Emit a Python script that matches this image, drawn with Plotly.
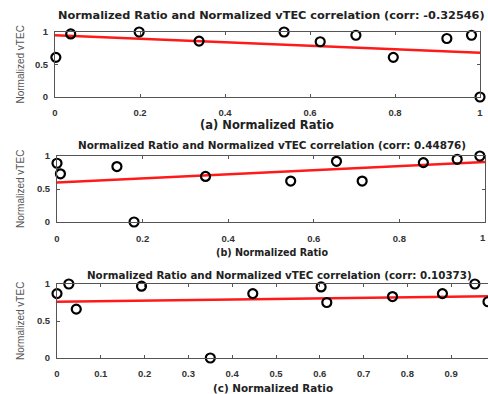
import plotly.graph_objects as go

# Panel (a)
xa = [0.002, 0.037, 0.198, 0.339, 0.539, 0.624, 0.708, 0.796, 0.922, 0.98, 1.0]
ya = [0.61, 0.97, 1.0, 0.86, 1.0, 0.85, 0.95, 0.61, 0.90, 0.95, 0.0]
fit_a_x = [0.0, 1.0]
fit_a_y = [0.95, 0.68]
corr_a = "-0.32546"

# Panel (b)
xb = [0.0, 0.008, 0.14, 0.18, 0.347, 0.546, 0.653, 0.713, 0.856, 0.935, 0.988]
yb = [0.89, 0.73, 0.84, 0.0, 0.69, 0.62, 0.92, 0.62, 0.90, 0.95, 1.0]
fit_b_x = [0.0, 1.0]
fit_b_y = [0.60, 0.91]
corr_b = "0.44876"

# Panel (c)
xc = [0.0, 0.027, 0.044, 0.193, 0.35, 0.447, 0.603, 0.616, 0.766, 0.88, 0.954, 0.984]
yc = [0.87, 1.0, 0.66, 0.97, 0.0, 0.87, 0.96, 0.75, 0.83, 0.87, 1.0, 0.76]
fit_c_x = [0.0, 1.0]
fit_c_y = [0.76, 0.835]
corr_c = "0.10373"

W, H = 488, 394
def px(x): return x / W
def py(y): return 1 - y / H

panels = [
    dict(x=xa, y=ya, fx=fit_a_x, fy=fit_a_y, corr=corr_a, xl="(a) Normalized Ratio",
         xd=[px(55), px(480)], yd=[py(97), py(32)], xr=[0, 1], dt=0.2, tfs=11.3, xlfs=11.5,
         tx=271, ty=15, xlx=267, xly=125, ylx=20, mirror_y=True, xso=7),
    dict(x=xb, y=yb, fx=fit_b_x, fy=fit_b_y, corr=corr_b, xl="(b) Normalized Ratio",
         xd=[px(57), px(485)], yd=[py(222), py(156)], xr=[0, 1], dt=0.2, tfs=10.4, xlfs=9.6,
         tx=272, ty=145, xlx=272, xly=252, ylx=20, mirror_y=True, xso=8),
    dict(x=xc, y=yc, fx=fit_c_x, fy=fit_c_y, corr=corr_c, xl="(c) Normalized Ratio",
         xd=[px(57), 1.0], yd=[py(358), py(284)], xr=[0, (W - 57) / 438.0], dt=0.1, tfs=10.3, xlfs=10.4,
         tx=279, ty=275, xlx=273, xly=388, ylx=20, mirror_y=False, xso=7),
]

fig = go.Figure()
annotations = []
font_t = "DejaVu Sans, Verdana, sans-serif"
font_k = "Liberation Sans, Arial, sans-serif"
for i, p in enumerate(panels, start=1):
    xa_name = "x" if i == 1 else f"x{i}"
    ya_name = "y" if i == 1 else f"y{i}"
    fig.add_trace(go.Scatter(x=p["fx"], y=p["fy"], mode="lines",
                             line=dict(color="#ff1a1a", width=2.5),
                             xaxis=xa_name, yaxis=ya_name, showlegend=False, cliponaxis=True,
                             hoverinfo="skip"))
    fig.add_trace(go.Scatter(x=p["x"], y=p["y"], mode="markers",
                             marker=dict(symbol="circle-open", size=9, color="black",
                                         line=dict(width=2.2, color="black")),
                             xaxis=xa_name, yaxis=ya_name, showlegend=False, cliponaxis=False))
    xkey = "xaxis" if i == 1 else f"xaxis{i}"
    ykey = "yaxis" if i == 1 else f"yaxis{i}"
    fig.update_layout(**{
        xkey: dict(domain=p["xd"], range=p["xr"], anchor=ya_name, dtick=p["dt"], tick0=0,
                   automargin=False, ticklabelstandoff=p["xso"],
                   showgrid=False, zeroline=False, showline=True, linecolor="#555", linewidth=1,
                   mirror="ticks", ticks="inside", ticklen=3, tickcolor="#555",
                   tickfont=dict(family=font_k, size=9.5, color="#333", weight="bold"), tickformat="~g"),
        ykey: dict(domain=p["yd"], range=[0, 1], anchor=xa_name, tickvals=[0, 0.5, 1],
                   ticktext=["0", "0.5", "1"], automargin=False, ticklabelstandoff=4,
                   showgrid=False, zeroline=False, showline=True, linecolor="#555", linewidth=1,
                   mirror="ticks" if p["mirror_y"] else False, ticks="inside", ticklen=3, tickcolor="#555",
                   tickfont=dict(family=font_k, size=9.5, color="#333", weight="bold")),
    })
    annotations.append(dict(text=f"<b>Normalized Ratio and Normalized vTEC correlation (corr: {p['corr']})</b>",
                            x=px(p["tx"]), y=py(p["ty"]), xref="paper", yref="paper",
                            xanchor="center", yanchor="middle",
                            showarrow=False, font=dict(family=font_t, size=p["tfs"], color="#222")))
    annotations.append(dict(text=f"<b>{p['xl']}</b>", x=px(p["xlx"]),
                            y=py(p["xly"]), xref="paper", yref="paper",
                            xanchor="center", yanchor="middle",
                            showarrow=False, font=dict(family=font_t, size=p["xlfs"], color="#222")))
    annotations.append(dict(text="Normalized vTEC", textangle=-90, x=px(p["ylx"]),
                            y=(p["yd"][0] + p["yd"][1]) / 2, xref="paper", yref="paper",
                            xanchor="center", yanchor="middle",
                            showarrow=False, font=dict(family=font_k, size=10, color="#555")))

# end tick label of panel (b), at the right edge as in the reference
annotations.append(dict(text="<b>1</b>", x=1.0, y=py(237), xref="paper", yref="paper",
                        xanchor="right", yanchor="middle", showarrow=False,
                        font=dict(family=font_k, size=9.5, color="#333")))

fig.update_layout(width=W, height=H, margin=dict(l=0, r=0, t=0, b=0),
                  paper_bgcolor="white", plot_bgcolor="white", annotations=annotations)
fig.write_html("out.html", config={"displayModeBar": False},
               post_script="document.body.style.margin='0';document.body.style.overflow='hidden';")
